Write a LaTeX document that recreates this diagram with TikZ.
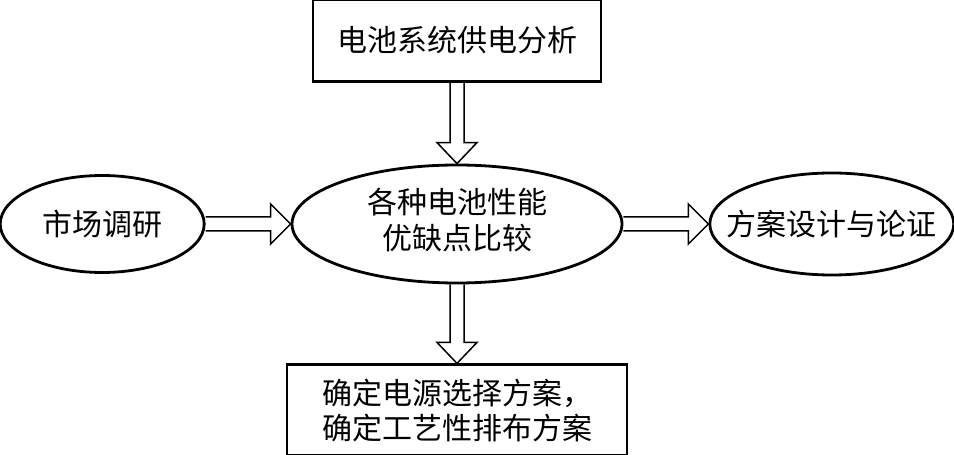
\documentclass[tikz,border=0pt]{standalone}
\usepackage{fontspec}
\setmainfont{Noto Sans CJK SC}
\usepackage{tikz}
\usetikzlibrary{shapes.geometric,positioning,calc}

\begin{document}
\begin{tikzpicture}[
    font=\fontsize{30}{35}\selectfont,
    rect/.style={draw, line width=2.8pt, inner sep=0pt, align=center},
    oval/.style={ellipse, draw, line width=2.8pt, inner sep=0pt},
    harrow/.style={line width=1.5pt, to path={
      let \p1=(\tikztostart), \p2=(\tikztotarget) in
      (\x1,\y1-7pt) -- (\x2-20pt,\y1-7pt) -- (\x2-20pt,\y1-20pt) -- (\x2,\y1)
      -- (\x2-20pt,\y1+20pt) -- (\x2-20pt,\y1+7pt) -- (\x1,\y1+7pt)}},
    varrow/.style={line width=1.5pt, to path={
      let \p1=(\tikztostart), \p2=(\tikztotarget) in
      (\x1-7pt,\y1) -- (\x1-7pt,\y2+21pt) -- (\x1-20pt,\y2+21pt) -- (\x1,\y2)
      -- (\x1+20pt,\y2+21pt) -- (\x1+7pt,\y2+21pt) -- (\x1+7pt,\y1)}}
  ]
    \useasboundingbox (0,0) rectangle (954pt,455pt);
    \node[oval, minimum width=330pt, minimum height=118pt] (ana) at (457pt,231pt)
      {\makebox[0pt]{\raisebox{-3pt}{\begin{tabular}{@{}c@{}}各种电池性能\\优缺点比较\end{tabular}}}};
    \node[rect, minimum width=288pt, minimum height=82pt, above=81pt of ana] (supply)
      {电池系统供电分析};
    \node[oval, minimum width=204pt, minimum height=97pt, left=85pt of ana] (market)
      {\makebox[0pt]{市场调研}};
    \node[oval, minimum width=244pt, minimum height=102pt, right=85pt of ana] (design)
      {\makebox[0pt]{方案设计与论证}};
    \node[rect, minimum width=340pt, minimum height=91pt, below=79pt of ana] (scheme)
      {确定电源选择方案，\\确定工艺性排布方案};
    \draw[varrow] (supply.south) to (ana.north);
    \draw[harrow] (market.east) to (ana.west);
    \draw[harrow] (ana.east) to (design.west);
    \draw[varrow] (ana.south) to (scheme.north);
  \end{tikzpicture}
\end{document}
